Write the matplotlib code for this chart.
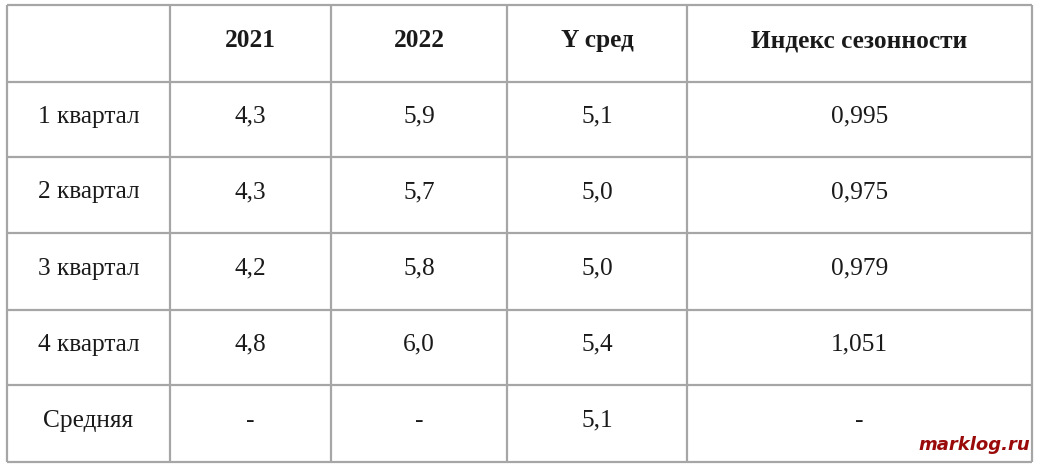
import matplotlib
matplotlib.use("Agg")
import matplotlib.pyplot as plt

# ---- data ----
columns = ["", "2021", "2022", "Y сред", "Индекс сезонности"]
rows = ["1 квартал", "2 квартал", "3 квартал", "4 квартал"]
y2021 = [4.3, 4.3, 4.2, 4.8]
y2022 = [5.9, 5.7, 5.8, 6.0]
y_mean = [5.1, 5.0, 5.0, 5.4]
season_index = [0.995, 0.975, 0.979, 1.051]
avg_label = "Средняя"
avg_mean = 5.1
watermark = "marklog.ru"

def fmt(v, d):
    return f"{v:.{d}f}".replace(".", ",")

cells = [columns]
for i, r in enumerate(rows):
    cells.append([r, fmt(y2021[i], 1), fmt(y2022[i], 1), fmt(y_mean[i], 1), fmt(season_index[i], 3)])
cells.append([avg_label, "-", "-", fmt(avg_mean, 1), "-"])

# ---- layout (pixels) ----
W, H = 1042, 465
col_edges = [7, 170, 331, 507, 687, 1032]
row_edges = [5, 82, 157, 233, 310, 385, 462]

fig = plt.figure(figsize=(W / 100, H / 100), dpi=100)
ax = fig.add_axes([0, 0, 1, 1])
ax.set_xlim(0, W)
ax.set_ylim(H, 0)
ax.axis("off")

line_color = "#a6a6a6"
ax.hlines(row_edges, col_edges[0], col_edges[-1], colors=line_color, linewidth=1.6)
ax.vlines(col_edges, row_edges[0], row_edges[-1], colors=line_color, linewidth=1.6)

serif = ["Liberation Serif", "DejaVu Serif"]
for ri, row in enumerate(cells):
    yc = (row_edges[ri] + row_edges[ri + 1]) / 2 - 3
    for ci, txt in enumerate(row):
        if not txt:
            continue
        xc = (col_edges[ci] + col_edges[ci + 1]) / 2
        ax.text(xc, yc, txt, ha="center", va="center", fontsize=18.3,
                family=serif, fontweight="bold" if ri == 0 else "normal",
                color="#1a1a1a")

ax.text(1030, 450, watermark, ha="right", va="baseline", fontsize=13,
        family=["DejaVu Sans"], fontweight="bold", fontstyle="italic",
        color="#9a0a0a")

fig.savefig("out.png", dpi=100, facecolor="white")
